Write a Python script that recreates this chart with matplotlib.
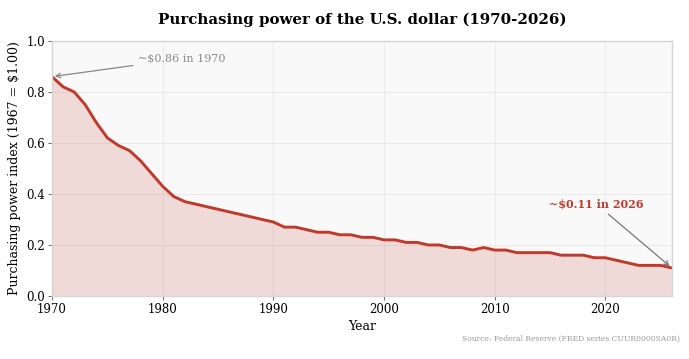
"""
Purchasing power of the U.S. dollar, 1970-2026 (1967 = $1.00)
"""
import matplotlib
matplotlib.use("Agg")
import matplotlib.pyplot as plt

plt.rcParams['font.family'] = ['DejaVu Serif', 'DejaVu Sans']

# annual index values (rounded to 2 decimals)
years = list(range(1970, 2027))
power = [
    0.86, 0.82, 0.80, 0.75, 0.68, 0.62, 0.59, 0.57, 0.53, 0.48,   # 1970-1979
    0.43, 0.39, 0.37, 0.36, 0.35, 0.34, 0.33, 0.32, 0.31, 0.30,   # 1980-1989
    0.29, 0.27, 0.27, 0.26, 0.25, 0.25, 0.24, 0.24, 0.23, 0.23,   # 1990-1999
    0.22, 0.22, 0.21, 0.21, 0.20, 0.20, 0.19, 0.19, 0.18, 0.19,   # 2000-2009
    0.18, 0.18, 0.17, 0.17, 0.17, 0.17, 0.16, 0.16, 0.16, 0.15,   # 2010-2019
    0.15, 0.14, 0.13, 0.12, 0.12, 0.12, 0.11,                     # 2020-2026
]
x_ticks = [1970, 1980, 1990, 2000, 2010, 2020]
y_ticks = [0.0, 0.2, 0.4, 0.6, 0.8, 1.0]

LINE = "#c0392b"

fig = plt.figure(figsize=(6.89, 3.59), dpi=100)
ax = fig.add_axes([0.0755, 0.1755, 0.8995, 0.7105])
ax.set_facecolor("#f9f9f9")

# 曲线下方浅红填充
ax.fill_between(years, power, 0, color=LINE, alpha=0.16, linewidth=0)
ax.plot(years, power, color=LINE, linewidth=2.1, solid_capstyle="round")

ax.set_xlim(1970, 2026)
ax.set_ylim(0, 1)
ax.set_xticks(x_ticks)
ax.set_yticks(y_ticks)
ax.set_yticklabels([f"{v:.1f}" for v in y_ticks])
ax.tick_params(labelsize=8.5, length=3, width=0.6, color="#555555", pad=2)
ax.grid(color="#e6e6e6", linewidth=0.5)
ax.set_axisbelow(True)
for s in ax.spines.values():
    s.set_color("#d5d5d5")
    s.set_linewidth(1.0)

ax.set_xlabel("Year", fontsize=9, labelpad=3)
ax.set_ylabel("Purchasing power index (1967 = $1.00)", fontsize=9, labelpad=4)
ax.set_title("Purchasing power of the U.S. dollar (1970-2026)",
             fontsize=10.8, fontweight="bold", pad=12)

# 首尾两个标注
ax.annotate(f"~${power[0]:.2f} in {years[0]}", xy=(years[0], power[0]),
            xytext=(1977.8, 0.93), fontsize=8, color="#888888",
            va="center", ha="left",
            arrowprops=dict(arrowstyle="->", color="#888888", lw=0.9))
ax.annotate(f"~${power[-1]:.2f} in {years[-1]}", xy=(years[-1], power[-1]),
            xytext=(2019.2, 0.36), fontsize=8, color=LINE, fontweight="bold",
            va="center", ha="center",
            arrowprops=dict(arrowstyle="->", color="#777777", lw=0.9))

fig.text(0.987, 0.055, "Source: Federal Reserve (FRED series CUUR0000SA0R)",
         fontsize=5.5, color="#999999", ha="right", va="center")

fig.savefig("out.png", dpi=100)
